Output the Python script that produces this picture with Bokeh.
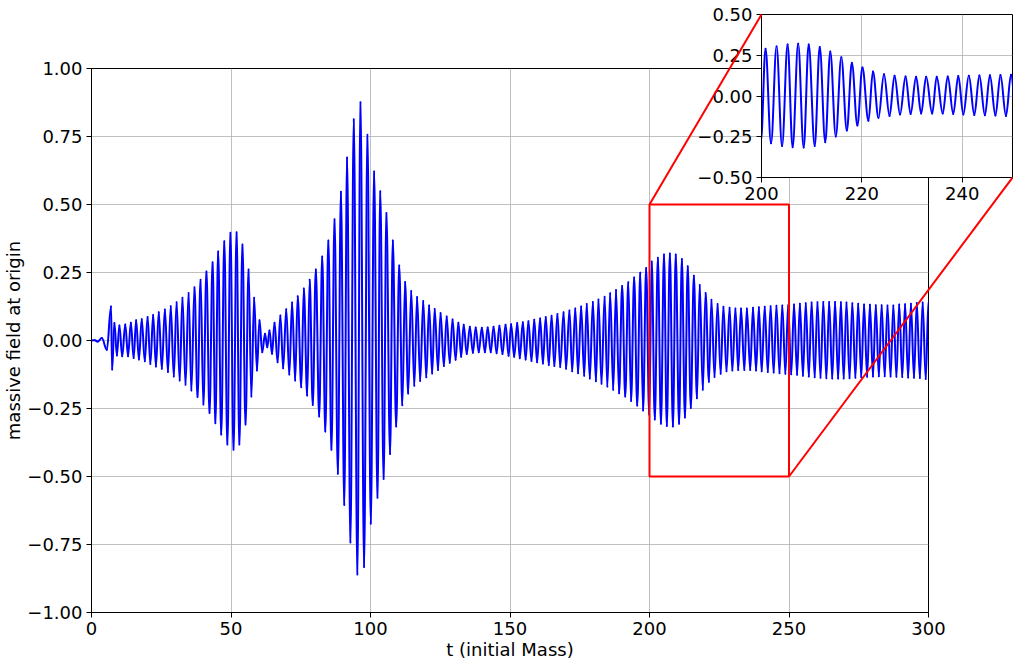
from bokeh.plotting import figure
from bokeh.models import Range1d, FixedTicker, ColumnDataSource
from bokeh.layouts import column
from bokeh.embed import file_html
from bokeh.resources import INLINE

# ---------------- data: successive extrema of the signal (time, value) ----------------
ext_t = [0.0, 1.2, 2.2, 3.7, 5.5, 7.0, 7.4, 8.2, 9.1, 10.0, 11.0, 12.1, 13.1, 14.1, 15.1, 16.0,
         17.0, 18.0, 19.1, 20.1, 21.1, 22.1, 23.1, 24.1, 25.2, 26.3, 27.4, 28.4, 29.5, 30.5,
         31.6, 32.6, 33.7, 34.8, 35.8, 36.9, 38.0, 39.1, 40.1, 41.2, 42.3, 43.4, 44.4, 45.4,
         46.5, 47.6, 48.7, 49.8, 50.9, 52.0, 53.0, 54.1, 55.2, 56.3, 57.3, 58.3, 59.3, 60.2,
         61.2, 62.2, 63.0, 63.8, 64.7, 65.6, 66.7, 67.7, 68.7, 69.8, 70.9, 71.9, 73.0, 73.9,
         75.2, 76.1, 77.3, 78.2, 79.3, 80.4, 81.6, 82.7, 83.8, 84.9, 86.0, 87.1, 88.3, 89.4,
         90.6, 91.6, 92.8, 94.0, 95.3, 96.4, 97.7, 98.9, 100.1, 101.3, 102.5, 103.5, 104.7,
         105.7, 107.0, 108.0, 109.2, 110.3, 111.4, 112.4, 113.5, 114.6, 115.7, 116.7, 117.8,
         118.9, 120.0, 121.0, 122.1, 123.0, 124.2, 125.1, 126.3, 127.3, 128.4, 129.4, 130.5,
         131.5, 132.5, 133.4, 134.5, 135.6, 136.7, 137.7, 138.8, 139.9, 141.0, 142.0, 143.1,
         144.1, 145.2, 146.2, 147.3, 148.4, 149.5, 150.4, 151.5, 152.6, 153.5, 154.6, 155.6,
         156.6, 157.7, 158.7, 159.7, 160.8, 161.8, 162.8, 163.9, 164.9, 165.9, 167.0, 168.0,
         169.2, 170.1, 171.3, 172.3, 173.4, 174.4, 175.5, 176.6, 177.5, 178.6, 179.7, 180.8,
         181.7, 182.8, 183.9, 184.9, 185.9, 187.0, 188.0, 189.1, 190.2, 191.3, 192.4, 193.4,
         194.5, 195.6, 196.7, 197.7, 198.8, 199.9, 200.8, 201.9, 203.0, 204.1, 205.2, 206.2,
         207.3, 208.4, 209.4, 210.6, 211.6, 212.7, 213.7, 214.8, 215.9, 217.0, 218.0, 219.1,
         220.1, 221.3, 222.2, 223.3, 224.4, 225.5, 226.5, 227.6, 228.7, 229.7, 230.8, 231.8,
         232.8, 234.0, 234.9, 236.1, 237.1, 238.2, 239.2, 240.2, 241.3, 242.4, 243.4, 244.5,
         245.5, 246.6, 247.6, 248.7, 249.7, 250.8, 251.8, 252.9, 253.9, 255.0, 256.0, 257.1,
         258.1, 259.2, 260.2, 261.3, 262.3, 263.4, 264.4, 265.5, 266.5, 267.6, 268.6, 269.6,
         270.6, 271.7, 272.7, 273.8, 274.8, 275.9, 276.9, 278.0, 279.0, 280.1, 281.1, 282.2,
         283.2, 284.3, 285.3, 286.4, 287.4, 288.5, 289.5, 290.6, 291.6, 292.7, 293.7, 294.8,
         295.8, 296.9, 297.9, 299.0, 300.0]
ext_v = [0.0, 0.001, -0.004, 0.009, -0.034, 0.125, -0.107, 0.064, -0.055, 0.055, -0.058, 0.059,
         -0.058, 0.065, -0.064, 0.074, -0.070, 0.078, -0.076, 0.086, -0.086, 0.094, -0.096,
         0.104, -0.104, 0.114, -0.116, 0.126, -0.132, 0.141, -0.147, 0.157, -0.163, 0.175,
         -0.184, 0.196, -0.208, 0.223, -0.235, 0.254, -0.267, 0.288, -0.304, 0.327, -0.346,
         0.365, -0.382, 0.396, -0.402, 0.398, -0.382, 0.353, -0.309, 0.261, -0.206, 0.157,
         -0.110, 0.074, -0.043, 0.025, -0.025, 0.037, -0.049, 0.065, -0.080, 0.092, -0.102,
         0.115, -0.125, 0.140, -0.147, 0.163, -0.172, 0.191, -0.202, 0.223, -0.237, 0.261,
         -0.279, 0.309, -0.335, 0.368, -0.402, 0.446, -0.490, 0.547, -0.605, 0.673, -0.743,
         0.813, -0.860, 0.876, -0.833, 0.756, -0.674, 0.621, -0.578, 0.549, -0.509, 0.469,
         -0.417, 0.368, -0.316, 0.276, -0.238, 0.215, -0.195, 0.182, -0.166, 0.160, -0.149,
         0.145, -0.135, 0.129, -0.121, 0.116, -0.108, 0.101, -0.094, 0.088, -0.082, 0.077,
         -0.071, 0.065, -0.060, 0.058, -0.050, 0.051, -0.045, 0.048, -0.043, 0.047, -0.043,
         0.048, -0.043, 0.051, -0.047, 0.054, -0.050, 0.058, -0.056, 0.060, -0.060, 0.064,
         -0.065, 0.067, -0.070, 0.071, -0.075, 0.076, -0.080, 0.081, -0.085, 0.086, -0.090,
         0.091, -0.094, 0.097, -0.097, 0.104, -0.104, 0.110, -0.113, 0.118, -0.120, 0.125,
         -0.130, 0.134, -0.140, 0.142, -0.150, 0.151, -0.159, 0.161, -0.169, 0.174, -0.181,
         0.186, -0.194, 0.200, -0.206, 0.214, -0.222, 0.232, -0.239, 0.249, -0.257, 0.267,
         -0.273, 0.290, -0.290, 0.304, -0.306, 0.316, -0.314, 0.320, -0.316, 0.316, -0.306,
         0.300, -0.283, 0.273, -0.248, 0.238, -0.212, 0.204, -0.181, 0.175, -0.152, 0.150,
         -0.134, 0.134, -0.122, 0.124, -0.113, 0.120, -0.110, 0.118, -0.108, 0.118, -0.108,
         0.118, -0.108, 0.120, -0.110, 0.122, -0.113, 0.124, -0.116, 0.126, -0.118, 0.128,
         -0.120, 0.129, -0.122, 0.130, -0.124, 0.132, -0.126, 0.135, -0.130, 0.137, -0.132,
         0.140, -0.135, 0.141, -0.137, 0.142, -0.139, 0.142, -0.140, 0.142, -0.140, 0.141,
         -0.140, 0.140, -0.139, 0.137, -0.137, 0.135, -0.135, 0.132, -0.133, 0.131, -0.132,
         0.130, -0.131, 0.130, -0.131, 0.129, -0.132, 0.129, -0.133, 0.132, -0.134, 0.133,
         -0.136, 0.135, -0.137, 0.138, -0.138, 0.140, -0.142, 0.145]

x_ticks = [0, 50, 100, 150, 200, 250, 300]
x_tick_labels = ["0", "50", "100", "150", "200", "250", "300"]
y_ticks = [-1.0, -0.75, -0.5, -0.25, 0.0, 0.25, 0.5, 0.75, 1.0]
y_tick_labels = ["\u22121.00", "\u22120.75", "\u22120.50", "\u22120.25", "0.00", "0.25", "0.50", "0.75", "1.00"]
inset_x_ticks = [200, 220, 240]
inset_x_tick_labels = ["200", "220", "240"]
inset_y_ticks = [-0.5, -0.25, 0.0, 0.25, 0.5]
inset_y_tick_labels = ["\u22120.50", "\u22120.25", "0.00", "0.25", "0.50"]
x_label = "t (initial Mass)"
y_label = "massive field at origin"
zoom_x = [200, 250]            # zoomed window (data)
zoom_y = [-0.5, 0.5]
inset_box_x = [240.14, 330.1]  # where the inset sits, in main-plot data coordinates
inset_box_y = [0.599, 1.1985]

FONT = "DejaVu Sans"
FS = "18px"

# ---------------- curve segments between successive extrema ----------------
K = 0.364
seg = dict(x0=ext_t[:-1], y0=ext_v[:-1], x1=ext_t[1:], y1=ext_v[1:])
seg["cx0"] = [a + K * (b - a) for a, b in zip(seg["x0"], seg["x1"])]
seg["cy0"] = list(seg["y0"])
seg["cx1"] = [b - K * (b - a) for a, b in zip(seg["x0"], seg["x1"])]
seg["cy1"] = list(seg["y1"])
src = ColumnDataSource(seg)


def style(fig, xt, xl, yt, yl):
    fig.xaxis.ticker = FixedTicker(ticks=xt)
    fig.yaxis.ticker = FixedTicker(ticks=yt)
    fig.xaxis.major_label_overrides = {t: l for t, l in zip(xt, xl)}
    fig.yaxis.major_label_overrides = {t: l for t, l in zip(yt, yl)}
    for ax in (fig.xaxis[0], fig.yaxis[0]):
        ax.major_label_text_font = FONT
        ax.major_label_text_font_size = FS
        ax.major_label_text_color = "black"
        ax.axis_label_text_font = FONT
        ax.axis_label_text_font_size = FS
        ax.axis_label_text_font_style = "normal"
        ax.axis_label_text_color = "black"
        ax.axis_line_color = "black"
        ax.major_tick_line_color = "black"
        ax.major_tick_out = 5
        ax.major_tick_in = 0
        ax.minor_tick_line_color = None
        ax.major_label_standoff = 4
    fig.grid.grid_line_color = "#b0b0b0"
    fig.grid.grid_line_width = 0.8
    fig.outline_line_color = "black"
    fig.outline_line_width = 1
    fig.outline_line_alpha = 1
    fig.background_fill_color = "white"


# ---------------- main plot ----------------
TOTAL_W = 1022
FW, FH = 837, 544
ML, MT = 91, 68            # shared left border (figures in a column align their frames)
MR = TOTAL_W - ML - FW
p = figure(frame_width=FW, frame_height=FH, min_border_left=ML, min_border_top=MT,
           min_border_right=MR, min_border_bottom=40,
           x_range=Range1d(0, 300), y_range=Range1d(-1, 1),
           output_backend="svg", toolbar_location=None)
style(p, x_ticks, x_tick_labels, y_ticks, y_tick_labels)
p.xaxis.axis_label = x_label
p.yaxis.axis_label = y_label
p.xaxis.axis_label_standoff = 1
p.yaxis.axis_label_standoff = 0
p.border_fill_color = "white"

p.bezier(x0="x0", y0="y0", x1="x1", y1="y1", cx0="cx0", cy0="cy0", cx1="cx1", cy1="cy1",
         source=src, line_color="blue", line_width=2, line_cap="round")
p.quad(left=[zoom_x[0]], right=[zoom_x[1]], bottom=[zoom_y[0]], top=[zoom_y[1]],
       fill_alpha=0, line_color="red", line_width=2)

sx = FW / 300.0
sy = FH / 2.0

# ---------------- inset ----------------
IT, IB = 14, 40
IFW = round(FW * (inset_box_x[1] - inset_box_x[0]) / 300)
IFH = round(FH * (inset_box_y[1] - inset_box_y[0]) / 2)
inset_left = round(ML + sx * inset_box_x[0]) - ML
inset_top = round(MT + sy * (1 - inset_box_y[1])) - IT
IR = max(TOTAL_W - inset_left - ML - IFW, 0)
inset = figure(frame_width=IFW, frame_height=IFH, min_border_left=ML, min_border_top=IT,
               min_border_right=IR, min_border_bottom=IB,
               x_range=Range1d(zoom_x[0], zoom_x[1]), y_range=Range1d(zoom_y[0], zoom_y[1]),
               output_backend="svg", toolbar_location=None)
style(inset, inset_x_ticks, inset_x_tick_labels, inset_y_ticks, inset_y_tick_labels)
inset.border_fill_alpha = 0
inset.bezier(x0="x0", y0="y0", x1="x1", y1="y1", cx0="cx0", cy0="cy0", cx1="cx1", cy1="cy1",
             source=src, line_color="blue", line_width=2, line_cap="round")

# ---------------- overlay for the connector lines (main-plot data coordinates) ----------------
OH = 660
OFW = TOTAL_W - ML
overlay = figure(frame_width=OFW, frame_height=OH,
                 min_border_left=ML, min_border_right=0, min_border_top=0, min_border_bottom=0,
                 x_range=Range1d(0, OFW / sx),
                 y_range=Range1d(1 - (OH - MT) / sy, 1 + MT / sy),
                 x_axis_type=None, y_axis_type=None,
                 output_backend="svg", toolbar_location=None)
overlay.grid.visible = False
overlay.outline_line_color = None
overlay.background_fill_alpha = 0
overlay.border_fill_alpha = 0
overlay.segment(x0=[zoom_x[0], zoom_x[1]], y0=[zoom_y[1], zoom_y[0]],
                x1=[inset_box_x[0], inset_box_x[1]], y1=[inset_box_y[1], inset_box_y[0]],
                line_color="red", line_width=2)

inset.styles = {"position": "absolute", "left": f"{inset_left}px", "top": f"{inset_top}px"}
overlay.styles = {"position": "absolute", "left": "0px", "top": "0px"}

root = column(p, inset, overlay)
root.styles = {"position": "relative"}

open("out.html", "w").write(file_html(root, INLINE))
